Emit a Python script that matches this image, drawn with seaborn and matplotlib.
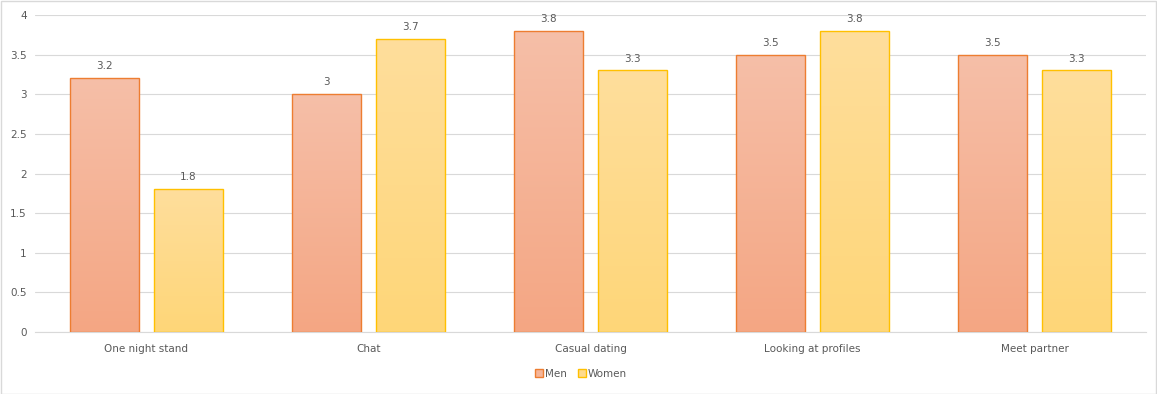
import numpy as np
import pandas as pd
import matplotlib
matplotlib.use('Agg')
import matplotlib.pyplot as plt
from matplotlib.colors import LinearSegmentedColormap
from matplotlib.patches import Rectangle
import seaborn as sns

categories = ['One night stand', 'Chat', 'Casual dating', 'Looking at profiles', 'Meet partner']
men = [3.2, 3.0, 3.8, 3.5, 3.5]
women = [1.8, 3.7, 3.3, 3.8, 3.3]

df = pd.DataFrame({
    'Category': categories * 2,
    'Value': men + women,
    'Gender': ['Men'] * len(categories) + ['Women'] * len(categories),
})

sns.set_theme(style='white')
plt.rcParams['font.family'] = ['DejaVu Sans']
text_col = '#595959'
grid_col = '#D9D9D9'

edge = {'Men': '#ED7D31', 'Women': '#FFC000'}
grad = {
    'Men': LinearSegmentedColormap.from_list('m', ['#F4A683', '#F6BFA8']),
    'Women': LinearSegmentedColormap.from_list('w', ['#FFD678', '#FEDE9C']),
}

fig = plt.figure(figsize=(11.57, 3.94), dpi=100)
ax = fig.add_axes([35 / 1157, 62 / 394, 1111 / 1157, 317 / 394])

sns.barplot(data=df, x='Category', y='Value', hue='Gender', order=categories,
            hue_order=['Men', 'Women'], palette=edge, width=0.757, gap=0.18,
            ax=ax, legend=False)

ax.set_xlim(-0.5, len(categories) - 0.5)
ax.set_ylim(0, 4)
ax.set_yticks(np.arange(0, 4.01, 0.5))
ax.yaxis.set_major_formatter(matplotlib.ticker.FormatStrFormatter('%g'))
ax.grid(axis='y', color=grid_col, linewidth=0.8)
ax.set_axisbelow(True)
for s in ['top', 'right', 'left']:
    ax.spines[s].set_visible(False)
ax.spines['bottom'].set_color(grid_col)
ax.spines['bottom'].set_linewidth(0.8)
ax.tick_params(axis='both', length=0, colors=text_col, labelsize=7.5)
ax.tick_params(axis='x', pad=9)
ax.tick_params(axis='y', pad=6)
ax.set_xlabel('')
ax.set_ylabel('')

grad_img = np.linspace(0, 1, 256).reshape(-1, 1)
for container, name in zip(ax.containers, ['Men', 'Women']):
    for bar in container:
        x0, y0 = bar.get_x(), bar.get_y()
        w, h = bar.get_width(), bar.get_height()
        im = ax.imshow(grad_img, cmap=grad[name], aspect='auto', origin='lower',
                       extent=[x0, x0 + w, y0, y0 + h], zorder=2)
        im.set_clip_path(bar)
        bar.set_facecolor('none')
        bar.set_edgecolor(edge[name])
        bar.set_linewidth(1.0)
        bar.set_zorder(3)
    ax.bar_label(container, fmt='%g', padding=5, color=text_col, fontsize=7.5)

ax.set_xlim(-0.5, len(categories) - 0.5)
ax.set_ylim(0, 4)

handles = [Rectangle((0, 0), 1, 1, facecolor=grad[n](0.6), edgecolor=edge[n], linewidth=1.0)
           for n in ['Men', 'Women']]
fig.legend(handles, ['Men', 'Women'], loc='center', bbox_to_anchor=(581 / 1157, 1 - 374 / 394),
           ncol=2, frameon=False, fontsize=7.5, labelcolor=text_col, handlelength=0.8,
           handleheight=0.8, handletextpad=0.2, columnspacing=1.0)

fig.patches.append(Rectangle((0.5 / 1157, 0.5 / 394), 1 - 1.5 / 1157, 1 - 1.5 / 394,
                             transform=fig.transFigure, fill=False, edgecolor=grid_col, linewidth=1))

fig.savefig('out.png', dpi=100)
plt.close(fig)
